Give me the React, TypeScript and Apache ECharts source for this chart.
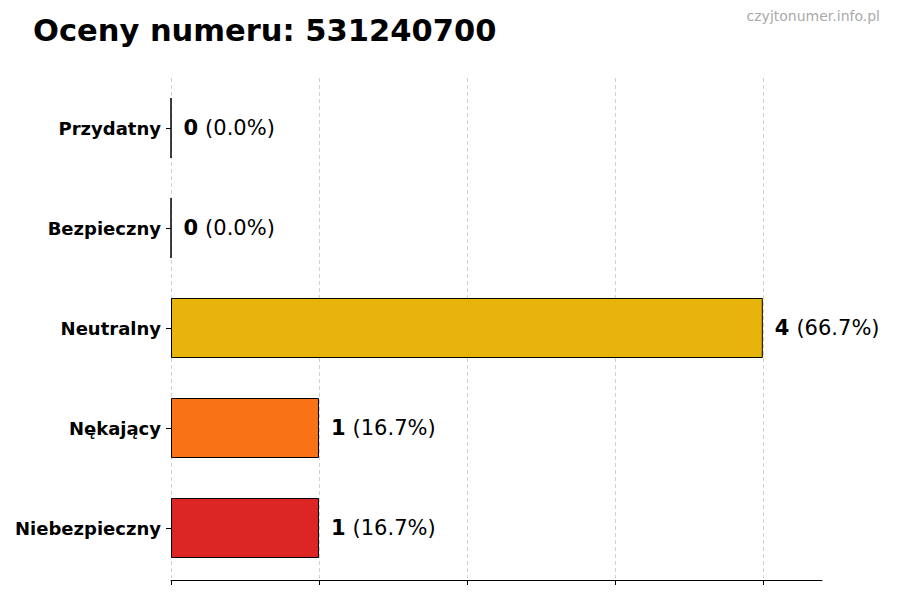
import React, { useEffect, useRef } from 'react';
import * as echarts from 'echarts';

const FONT = '"DejaVu Sans", sans-serif';

const categories = ['Przydatny', 'Bezpieczny', 'Neutralny', 'Nękający', 'Niebezpieczny'];
const counts = [0, 0, 4, 1, 1];
const percents = ['0.0', '0.0', '66.7', '16.7', '16.7'];
const colors = ['#22c55e', '#16a34a', '#e8b40c', '#f97316', '#dc2626'];
const xTicks = [0, 1, 2, 3, 4];

const App = (): JSX.Element => {
  const divEL = useRef(null);

  useEffect(() => {
    document.body.style.margin = '0';
    const instance = echarts.init(divEL.current as any, null, { renderer: 'svg' });

    const option: any = {
      animation: false,
      textStyle: { fontFamily: FONT },
      title: [
        {
          text: 'Oceny numeru: 531240700',
          left: 33,
          top: 15,
          padding: 0,
          textStyle: { fontFamily: FONT, fontSize: 30.5, fontWeight: 'bold', color: '#000' },
        },
        {
          text: 'czyjtonumer.info.pl',
          right: 20,
          top: 9,
          padding: 0,
          textStyle: { fontFamily: FONT, fontSize: 14, fontWeight: 'normal', color: '#aaaaaa' },
        },
      ],
      grid: { left: 171, right: 78, top: 78, bottom: 22 },
      xAxis: {
        type: 'value',
        min: 0,
        max: 4.4,
        interval: 1,
        offset: 2,
        axisLine: { show: true, lineStyle: { color: '#000', width: 1 } },
        axisTick: { show: true, length: 5, lineStyle: { color: '#000' }, customValues: xTicks },
        axisLabel: { show: false },
        splitLine: { show: false },
      },
      yAxis: {
        type: 'category',
        inverse: true,
        data: categories,
        axisLine: { show: false },
        axisTick: { show: true, length: 5, alignWithLabel: true, lineStyle: { color: '#000' } },
        axisLabel: {
          margin: 10,
          fontFamily: FONT,
          fontSize: 18,
          fontWeight: 'bold',
          color: '#000',
          padding: [2, 0, 0, 0],
        },
        splitLine: { show: false },
      },
      series: [
        {
          type: 'bar',
          barWidth: 60,
          data: counts.map((v, i) => ({
            value: v,
            itemStyle: { color: colors[i], borderColor: '#000', borderWidth: 1 },
          })),
          label: {
            show: true,
            position: 'right',
            distance: 12,
            formatter: (p: any) => `{b|${counts[p.dataIndex]}}{n|(${percents[p.dataIndex]}%)}`,
            rich: {
              b: { fontFamily: FONT, fontSize: 21, fontWeight: 'bold', color: '#000' },
              n: { fontFamily: FONT, fontSize: 21, color: '#000', padding: [0, 0, 0, 7] },
            },
          },
          markLine: {
            silent: true,
            symbol: 'none',
            label: { show: false },
            lineStyle: { color: '#d0d0d0', type: [4, 3], width: 1 },
            data: xTicks.map((t) => ({ xAxis: t })),
            z: 0,
          },
        },
      ],
    };
    instance.setOption(option);

    return () => {
      instance.dispose();
    };
  }, []);

  return <div ref={divEL} style={{ width: 900, height: 600 }}></div>;
};

export default App;
